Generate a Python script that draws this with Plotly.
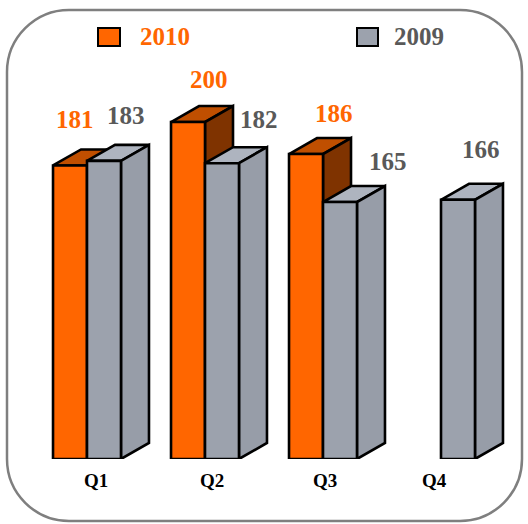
import plotly.graph_objects as go

# ---- data ----
categories = ["Q1", "Q2", "Q3", "Q4"]
values_2010 = [181, 200, 186, None]
values_2009 = [183, 182, 165, 166]
series_names = ["2010", "2009"]

# ---- styling / layout constants ----
W, H = 528, 524
MB = 65                      # bottom margin (plot floor at y=459 px)
BASE = 52.6                  # value at floor
Y_SCALE = 2.286              # px per unit
X_SCALE = 118.0              # px per category
X0_PX = 87.0                 # pixel x of category 0 boundary
BAR_W = 0.288                # front face width (category units)
DEPTH_X = 28 / X_SCALE
DEPTH_Y = 16 / Y_SCALE

ORANGE = dict(front="#FF6600", top="#C04F00", side="#7F3300")
GRAY = dict(front="#9CA2AD", top="#AEB4BF", side="#979DA8")
ORANGE_TXT = "#FF6600"
GRAY_TXT = "#595959"
FONT = "Liberation Serif"
LBL_SIZE = 25

# label shifts (px) from the front-top-left corner of each bar
LBL_DX_2010 = [22, 38, 45, 0]
LBL_DY_2010 = [46, 43, 41, 0]
LBL_DX_2009 = [39, 54, 65, 40]
LBL_DY_2009 = [45, 44, 41, 50]
# category label shift (px) relative to the category boundary
CAT_DX = [9, 7, 2, -7]

x_lo = -X0_PX / X_SCALE
x_hi = x_lo + W / X_SCALE
y_hi = BASE + (H - MB) / Y_SCALE

fig = go.Figure()


def add_box(xl, xr, top, colors):
    b = BASE
    faces = [
        ("top", [xl, xr, xr + DEPTH_X, xl + DEPTH_X, xl],
         [top, top, top + DEPTH_Y, top + DEPTH_Y, top]),
        ("side", [xr, xr + DEPTH_X, xr + DEPTH_X, xr, xr],
         [b, b + DEPTH_Y, top + DEPTH_Y, top, b]),
        ("front", [xl, xr, xr, xl, xl], [b, b, top, top, b]),
    ]
    for name, xs, ys in faces:
        fig.add_trace(go.Scatter(
            x=xs, y=ys, mode="lines", fill="toself",
            fillcolor=colors[name], line=dict(color="black", width=2.6),
            hoverinfo="skip", showlegend=False, cliponaxis=False))


annotations = []
for i, cat in enumerate(categories):
    v10 = values_2010[i]
    v09 = values_2009[i]
    if v10 is not None:
        add_box(i - BAR_W, i, v10, ORANGE)
    if v09 is not None:
        add_box(i, i + BAR_W, v09, GRAY)
    if v10 is not None:
        annotations.append(dict(
            x=i - BAR_W, y=v10, xref="x", yref="y", text=str(v10),
            showarrow=False, xanchor="center", yanchor="middle",
            xshift=LBL_DX_2010[i], yshift=LBL_DY_2010[i],
            font=dict(family=FONT, size=LBL_SIZE, color=ORANGE_TXT, weight="bold")))
    if v09 is not None:
        annotations.append(dict(
            x=i, y=v09, xref="x", yref="y", text=str(v09),
            showarrow=False, xanchor="center", yanchor="middle",
            xshift=LBL_DX_2009[i], yshift=LBL_DY_2009[i],
            font=dict(family=FONT, size=LBL_SIZE, color=GRAY_TXT, weight="bold")))
    # category label under the bars
    annotations.append(dict(
        x=i, y=BASE, xref="x", yref="y", text=cat, showarrow=False,
        xanchor="center", yanchor="middle", xshift=CAT_DX[i], yshift=-21,
        font=dict(family=FONT, size=19, color="black", weight="bold")))


# helpers px -> paper
def PX(x):
    return x / W


def PY(y):
    return (H - MB - y) / (H - MB)


shapes = []
# rounded border
L, R, T, B, r = 7, 522, 10, 521, 62
k = 0.45
path = (
    f"M {PX(L + r)},{PY(T)} L {PX(R - r)},{PY(T)} "
    f"C {PX(R - r * k)},{PY(T)} {PX(R)},{PY(T + r * k)} {PX(R)},{PY(T + r)} "
    f"L {PX(R)},{PY(B - r)} "
    f"C {PX(R)},{PY(B - r * k)} {PX(R - r * k)},{PY(B)} {PX(R - r)},{PY(B)} "
    f"L {PX(L + r)},{PY(B)} "
    f"C {PX(L + r * k)},{PY(B)} {PX(L)},{PY(B - r * k)} {PX(L)},{PY(B - r)} "
    f"L {PX(L)},{PY(T + r)} "
    f"C {PX(L)},{PY(T + r * k)} {PX(L + r * k)},{PY(T)} {PX(L + r)},{PY(T)} Z"
)
shapes.append(dict(type="path", path=path, xref="paper", yref="paper",
                   line=dict(color="#7F7F7F", width=2.5), layer="below"))

# legend (custom)
legend_items = [
    (series_names[0], ORANGE["front"], ORANGE_TXT, 98, 120, 165),
    (series_names[1], GRAY["front"], GRAY_TXT, 357, 378, 419),
]
for name, fc, tc, x0, x1, tx in legend_items:
    shapes.append(dict(type="rect", xref="paper", yref="paper",
                       x0=PX(x0), x1=PX(x1), y0=PY(46), y1=PY(28),
                       fillcolor=fc, line=dict(color="black", width=2)))
    annotations.append(dict(x=PX(tx), y=PY(37), xref="paper", yref="paper",
                            text=name, showarrow=False, xanchor="center",
                            yanchor="middle",
                            font=dict(family=FONT, size=LBL_SIZE, color=tc, weight="bold")))

fig.update_layout(
    width=W, height=H,
    margin=dict(l=0, r=0, t=0, b=MB),
    paper_bgcolor="white", plot_bgcolor="rgba(0,0,0,0)",
    showlegend=False,
    shapes=shapes, annotations=annotations,
    xaxis=dict(range=[x_lo, x_hi], visible=False, showgrid=False, zeroline=False),
    yaxis=dict(range=[BASE, y_hi], visible=False, showgrid=False, zeroline=False),
)

fig.write_html("out.html")
